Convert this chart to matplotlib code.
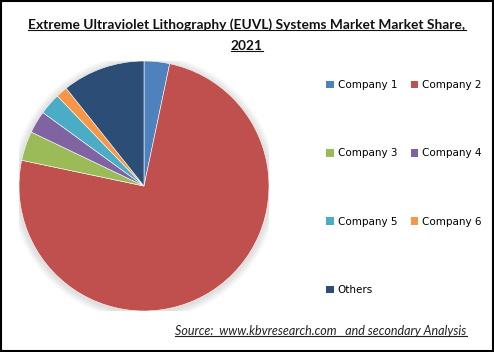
import matplotlib
matplotlib.use("Agg")
import matplotlib.pyplot as plt
from matplotlib.patches import Rectangle, Patch, Circle
from matplotlib.lines import Line2D

labels = ["Company 1", "Company 2", "Company 3", "Company 4",
          "Company 5", "Company 6", "Others"]
shares = [3.3, 75.0, 3.8, 2.9, 2.8, 1.5, 10.7]
colors = ["#4F81BD", "#C0504D", "#9BBB59", "#8064A2",
          "#4BACC6", "#F79646", "#2C4D75"]
title_lines = ["Extreme Ultraviolet Lithography (EUVL) Systems Market Market Share,",
               "2021"]
source_text = "Source:  www.kbvresearch.com   and secondary Analysis"

W, H = 494, 352
fig = plt.figure(figsize=(W / 100, H / 100), dpi=100)
fig.patch.set_facecolor("white")

# pie axes: centre ~ (144,186) px, radius ~125 px
r = 125
ax = fig.add_axes([(144 - r) / W, 1 - (186 + r) / H, 2 * r / W, 2 * r / H])

# soft shadow around the pie
for i in range(4):
    ax.add_patch(Circle((0.0, -0.01), 1.0 + 0.015 * (i + 1), color="#000000",
                        alpha=0.03, zorder=0, lw=0))

ax.pie(shares, colors=colors, startangle=90, counterclock=False,
       wedgeprops=dict(linewidth=0.4, edgecolor="white"))
ax.set_xlim(-1, 1)
ax.set_ylim(-1, 1)
ax.set_aspect("equal")

# legend, filled row by row
order = [0, 2, 4, 6, 1, 3, 5]
handles = [Patch(facecolor=colors[i], edgecolor="none") for i in order]
fig.legend(handles, [labels[i] for i in order], ncol=2, frameon=False,
           loc="upper left", bbox_to_anchor=(322 / W, 1 - 76 / H),
           prop={"family": "DejaVu Sans", "size": 7.5},
           handlelength=0.75, handleheight=0.75, handletextpad=0.35,
           columnspacing=1.3, labelspacing=5.6, borderaxespad=0)

# title lines
t1 = fig.text(0.5, 1 - 25 / H, title_lines[0], ha="center", va="center",
              fontsize=9.9, fontweight="bold", family="Lato", color="#111111")
t2 = fig.text(0.5, 1 - 46 / H, title_lines[1], ha="center", va="center",
              fontsize=9.9, fontweight="bold", family="Lato", color="#111111")
src = fig.text(321 / W, 1 - 331 / H, source_text, ha="center", va="center",
               fontsize=9, style="italic", family="Lato", color="#222222")

# underline the texts
fig.canvas.draw()
renderer = fig.canvas.get_renderer()
for t, col in [(t1, "#111111"), (t2, "#111111"), (src, "#222222")]:
    bb = t.get_window_extent(renderer).transformed(fig.transFigure.inverted())
    y = bb.y0 + 0.004
    fig.add_artist(Line2D([bb.x0, bb.x1], [y, y], transform=fig.transFigure,
                          color=col, lw=0.8))

# outer frame
fig.add_artist(Rectangle((0.002, 0.003), 0.996, 0.994, transform=fig.transFigure,
                         fill=False, edgecolor="black", lw=1.5))

fig.savefig("out.png", dpi=100)
